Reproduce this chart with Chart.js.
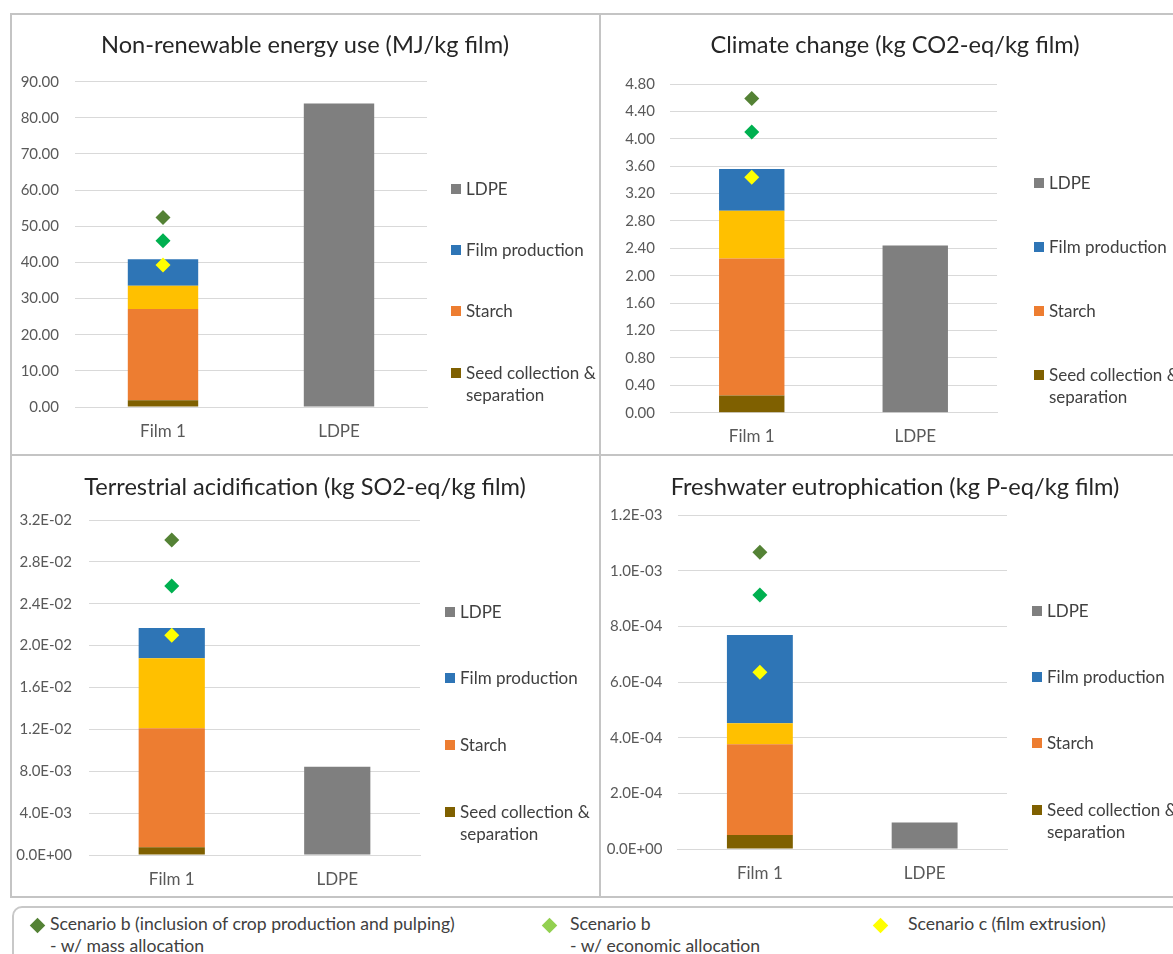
<!DOCTYPE html>
<html>
<head>
<meta charset="utf-8">
<script src="https://cdn.jsdelivr.net/npm/chart.js@4.4.1/dist/chart.umd.min.js"></script>
<style>
  html, body { margin: 0; padding: 0; background: #ffffff; }
  body { width: 1173px; height: 954px; position: relative; overflow: hidden; font-family: Lato, "Noto Sans", sans-serif; }
  .rule { position: absolute; background: #c4c4c4; }
  .frame { position: absolute; left: 10px; top: 13px; width: 1300px; height: 885px; border: 2px solid #c4c4c4; box-sizing: border-box; }
  canvas { position: absolute; }
  .ttl { position: absolute; width: 590px; text-align: center; font-size: 23.6px; line-height: 28px; color: #262626; white-space: nowrap; }
  .leg { position: absolute; font-size: 17px; line-height: 22px; color: #404040; width: 140px; }
  .leg .sw { position: absolute; left: 0; top: 6px; width: 10px; height: 10px; }
  .leg .tx { position: absolute; left: 15px; top: 0; width: 140px; white-space: normal; }
  .keybox { position: absolute; left: 12px; top: 906px; width: 1300px; height: 90px; border: 2px solid #c8c8c8; border-radius: 10px; box-sizing: border-box; }
  .key { position: absolute; font-size: 17.6px; line-height: 22px; color: #404040; white-space: nowrap; }
  .dia { position: absolute; width: 11px; height: 11px; transform: rotate(45deg); }
</style>
</head>
<body>
<div class="frame"></div>
<div class="rule" style="left:599px; top:13px; width:2px; height:885px;"></div>
<div class="rule" style="left:10px; top:454px; width:1300px; height:2px;"></div>

<canvas id="c0" width="590" height="442" style="left:10px; top:13px;"></canvas>
<canvas id="c1" width="573" height="442" style="left:600px; top:13px;"></canvas>
<canvas id="c2" width="590" height="442" style="left:10px; top:455px;"></canvas>
<canvas id="c3" width="573" height="442" style="left:600px; top:455px;"></canvas>

<div id="titles"></div>
<div id="legends"></div>
<div class="keybox"></div>
<div id="keys"></div>

<script>
// Categories on the x axis
const categories = ['Film 1', 'LDPE'];

// One entry per impact indicator:
// [non-renewable energy, climate change, terrestrial acidification, freshwater eutrophication]
const panelTitles = [
  'Non-renewable energy use (MJ/kg film)',
  'Climate change (kg CO2-eq/kg film)',
  'Terrestrial acidification (kg SO2-eq/kg film)',
  'Freshwater eutrophication (kg P-eq/kg film)'
];

// Film 1 contributions, stacked bottom to top
const seedCollection = [1.9, 0.25, 0.00074, 0.000050];
const starch         = [25.2, 2.00, 0.01136, 0.000326];
const additive       = [6.45, 0.70, 0.00669, 0.000076];
const filmProduction = [7.3, 0.61, 0.00289, 0.000317];

// Conventional LDPE film
const ldpe = [84.0, 2.44, 0.00844, 0.000095];

// Scenario totals for Film 1
const scenarioBMass     = [52.4, 4.59, 0.0301, 0.001066];
const scenarioBEconomic = [46.0, 4.10, 0.0257, 0.000913];
const scenarioC         = [39.3, 3.44, 0.0210, 0.000635];

// Value axis ranges and label formats
const axisMax   = [90, 4.8, 0.032, 0.0012];
const axisStep  = [10, 0.4, 0.004, 0.0002];
const axisStyle = ['fixed', 'fixed', 'sci', 'sci'];

// Series names
const seedLabel = 'Seed collection & separation';
const starchLabel = 'Starch';
const filmLabel = 'Film production';
const ldpeLabel = 'LDPE';
const scenarioLabels = [
  ['Scenario b (inclusion of crop production and pulping)', '- w/ mass allocation'],
  ['Scenario b', '- w/ economic allocation'],
  ['Scenario c (film extrusion)']
];

// Styling
const colors = {
  seed: '#7F6000', starch: '#ED7D31', additive: '#FFC000', film: '#2E75B6', ldpe: '#7F7F7F',
  bMass: '#548235', bEcon: '#00B050', c: '#FFFF00', bEconKey: '#92D050'
};

// Canvas geometry per panel: y-axis width, right gap, x-axis height, plot top, label gap
const panels = [
  { id: 'c0', left: 10,  top: 13,  yw: 65,   rp: 173, xh: 48,   plotTop: 68.7, pad: 16, legX: 451,  legY: [189, 250, 311, 373] },
  { id: 'c1', left: 600, top: 13,  yw: 70,   rp: 176, xh: 42.3, plotTop: 71,   pad: 15, legX: 1034, legY: [183, 247, 311, 375] },
  { id: 'c2', left: 10,  top: 455, yw: 79,   rp: 180, xh: 42,   plotTop: 65,   pad: 17, legX: 445,  legY: [612, 678, 745, 812] },
  { id: 'c3', left: 600, top: 455, yw: 77.5, rp: 166, xh: 48,   plotTop: 60,   pad: 15, legX: 1032, legY: [611, 677, 743, 810] }
];

function sciLabel(v) {
  if (Math.abs(v) < 1e-12) return '0.0E+00';
  let e = Math.floor(Math.log10(Math.abs(v)));
  let m = v / Math.pow(10, e);
  if (Math.round(m * 10) / 10 >= 10) { m /= 10; e += 1; }
  return m.toFixed(1) + 'E' + (e < 0 ? '-' : '+') + String(Math.abs(e)).padStart(2, '0');
}

function film(v) { return [v, null]; }
function marker(label, v, color, stack) {
  return {
    type: 'line', label: label, data: [v, null], stack: stack, order: 0,
    showLine: false, pointStyle: 'rectRot', pointRadius: 7.5, pointHoverRadius: 7.5,
    pointBackgroundColor: color, pointBorderWidth: 0, borderColor: color, backgroundColor: color
  };
}

function buildChart(i) {
  const p = panels[i];
  const bar = (label, data, color) => ({
    type: 'bar', label: label, data: data, backgroundColor: color, stack: 'bars', order: 1,
    borderWidth: 0, barPercentage: 0.4, categoryPercentage: 1.0
  });
  new Chart(document.getElementById(p.id), {
    data: {
      labels: categories,
      datasets: [
        bar(seedLabel, film(seedCollection[i]), colors.seed),
        bar(starchLabel, film(starch[i]), colors.starch),
        bar('', film(additive[i]), colors.additive),
        bar(filmLabel, film(filmProduction[i]), colors.film),
        bar(ldpeLabel, [null, ldpe[i]], colors.ldpe),
        marker(scenarioLabels[0].join(' '), scenarioBMass[i], colors.bMass, 'm1'),
        marker(scenarioLabels[1].join(' '), scenarioBEconomic[i], colors.bEcon, 'm2'),
        marker(scenarioLabels[2].join(' '), scenarioC[i], colors.c, 'm3')
      ]
    },
    options: {
      responsive: false,
      animation: false,
      layout: { padding: { left: 0, right: p.rp, top: p.plotTop, bottom: 0 } },
      plugins: {
        legend: { display: false },
        tooltip: { enabled: false },
        title: { display: false }
      },
      scales: {
        x: {
          stacked: true,
          grid: { display: false },
          border: { display: true, color: '#d9d9d9', width: 1 },
          ticks: { color: '#595959', font: { family: 'Lato', size: 17 }, padding: 6 },
          afterFit: (s) => { s.height = p.xh; }
        },
        y: {
          stacked: true, min: 0, max: axisMax[i],
          grid: { color: '#d9d9d9', lineWidth: 1, drawTicks: false },
          border: { display: false },
          ticks: {
            stepSize: axisStep[i], color: '#595959', font: { family: 'Lato', size: 15 }, padding: p.pad,
            callback: (v) => axisStyle[i] === 'sci' ? sciLabel(v) : Number(v).toFixed(2)
          },
          afterFit: (s) => { s.width = p.yw; }
        }
      }
    }
  });
}

function buildTitles() {
  const host = document.getElementById('titles');
  panels.forEach((p, i) => {
    const t = document.createElement('div');
    t.className = 'ttl';
    t.style.left = p.left + 'px';
    t.style.top = (p.top + 17) + 'px';
    t.textContent = panelTitles[i];
    host.appendChild(t);
  });
}

function buildLegends() {
  const host = document.getElementById('legends');
  const entries = [[ldpeLabel, colors.ldpe], [filmLabel, colors.film], [starchLabel, colors.starch], [seedLabel, colors.seed]];
  panels.forEach((p) => {
    entries.forEach((e, k) => {
      const d = document.createElement('div');
      d.className = 'leg';
      d.style.left = p.legX + 'px';
      d.style.top = (p.legY[k] - 11) + 'px';
      d.innerHTML = '<div class="sw" style="background:' + e[1] + '"></div>';
      const t = document.createElement('div');
      t.className = 'tx';
      t.textContent = e[0];
      d.appendChild(t);
      host.appendChild(d);
    });
  });
}

function buildKeys() {
  const host = document.getElementById('keys');
  const spots = [[37.5, 50, colors.bMass], [549, 570, colors.bEconKey], [880.5, 908, colors.c]];
  scenarioLabels.forEach((lines, k) => {
    const s = spots[k];
    const dia = document.createElement('div');
    dia.className = 'dia';
    dia.style.left = (s[0] - 5.5) + 'px';
    dia.style.top = (925 - 5.5) + 'px';
    dia.style.background = s[2];
    host.appendChild(dia);
    lines.forEach((ln, j) => {
      const t = document.createElement('div');
      t.className = 'key';
      t.style.left = s[1] + 'px';
      t.style.top = (924 - 11 + j * 22) + 'px';
      t.textContent = ln;
      host.appendChild(t);
    });
  });
}

const ready = document.fonts ? Promise.all([
  document.fonts.load('24px Lato'), document.fonts.load('17px Lato'), document.fonts.load('15px Lato')
]).catch(() => null) : Promise.resolve();

ready.then(() => {
  for (let i = 0; i < panels.length; i++) buildChart(i);
  buildTitles();
  buildLegends();
  buildKeys();
});
</script>
</body>
</html>
